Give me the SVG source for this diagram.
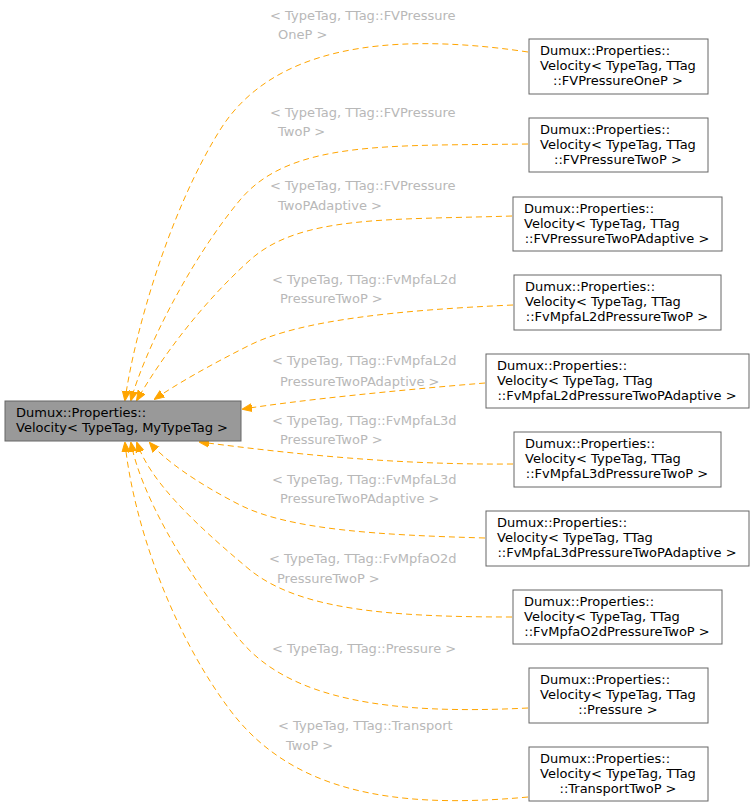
<svg xmlns="http://www.w3.org/2000/svg" width="755" height="809" viewBox="0 0 755 809">
<style>
text{font-family:"DejaVu Sans",sans-serif;font-size:13px;fill:#000}
.l{fill:#b8b8b8;font-size:13px}
.n{fill:#fff;stroke:#666;stroke-width:1}
.e{fill:none;stroke:#ffa500;stroke-dasharray:6,4;stroke-width:1}
.m{text-anchor:middle}
</style>
<defs><marker id="a" markerWidth="10" markerHeight="10" refX="9" refY="5" orient="auto" markerUnits="userSpaceOnUse"><path d="M0,1 L10,5 L0,9 Z" fill="#ffa500" stroke="#ffa500"/></marker></defs>
<rect width="755" height="809" fill="#fff"/>
<g id="edges">
<path class="e" marker-end="url(#a)" d="M528,52 C380,30 270,50 220,130 C170,210 135,330 125,400"/>
<path class="e" marker-end="url(#a)" d="M528,144 C390,146 290,140 240,200 C190,260 145,350 131,400"/>
<path class="e" marker-end="url(#a)" d="M512,216 C390,220 300,215 250,260 C200,305 160,360 137,400"/>
<path class="e" marker-end="url(#a)" d="M513,305 C400,310 300,320 250,345 C210,365 175,385 155,399"/>
<path class="e" marker-end="url(#a)" d="M485,383 C400,390 300,400 243,409"/>
<path class="e" marker-end="url(#a)" d="M513,464 C400,465 300,455 200,442"/>
<path class="e" marker-end="url(#a)" d="M485,538 C380,535 290,530 240,505 C195,482 165,460 150,443"/>
<path class="e" marker-end="url(#a)" d="M512,617 C390,617 300,610 250,570 C190,520 150,480 137,443"/>
<path class="e" marker-end="url(#a)" d="M528,708 C390,715 290,700 240,640 C180,565 140,490 131,443"/>
<path class="e" marker-end="url(#a)" d="M528,797 C390,810 290,790 230,710 C170,630 133,520 125,443"/>
</g>
<g id="labels" class="l">
<text class="l" x="270" y="20">&lt; TypeTag, TTag::FVPressure</text><text class="l" x="278" y="39">OneP &gt;</text>
<text class="l" x="270" y="117">&lt; TypeTag, TTag::FVPressure</text><text class="l" x="278" y="136">TwoP &gt;</text>
<text class="l" x="270" y="190">&lt; TypeTag, TTag::FVPressure</text><text class="l" x="278" y="210">TwoPAdaptive &gt;</text>
<text class="l" x="272" y="284">&lt; TypeTag, TTag::FvMpfaL2d</text><text class="l" x="280" y="303">PressureTwoP &gt;</text>
<text class="l" x="272" y="365">&lt; TypeTag, TTag::FvMpfaL2d</text><text class="l" x="280" y="386">PressureTwoPAdaptive &gt;</text>
<text class="l" x="272" y="425">&lt; TypeTag, TTag::FvMpfaL3d</text><text class="l" x="280" y="444">PressureTwoP &gt;</text>
<text class="l" x="272" y="484">&lt; TypeTag, TTag::FvMpfaL3d</text><text class="l" x="280" y="503">PressureTwoPAdaptive &gt;</text>
<text class="l" x="269" y="563">&lt; TypeTag, TTag::FvMpfaO2d</text><text class="l" x="277" y="583">PressureTwoP &gt;</text>
<text class="l" x="272" y="653">&lt; TypeTag, TTag::Pressure &gt;</text>
<text class="l" x="278" y="730">&lt; TypeTag, TTag::Transport</text><text class="l" x="286" y="750">TwoP &gt;</text>
</g>
<g id="root"><rect x="5" y="401" width="236" height="40" fill="#999" stroke="#666"/><text x="16" y="417">Dumux::Properties::</text><text x="16" y="432">Velocity&lt; TypeTag, MyTypeTag &gt;</text></g>
<g id="n1"><rect class="n" x="529" y="39" width="179" height="55"/><text x="540" y="55">Dumux::Properties::</text><text x="540" y="70">Velocity&lt; TypeTag, TTag</text><text class="m" x="618" y="85">::FVPressureOneP &gt;</text></g>
<g id="n2"><rect class="n" x="529" y="118" width="179" height="54"/><text x="540" y="134">Dumux::Properties::</text><text x="540" y="149">Velocity&lt; TypeTag, TTag</text><text class="m" x="618" y="164">::FVPressureTwoP &gt;</text></g>
<g id="n3"><rect class="n" x="513" y="197" width="209" height="54"/><text x="524" y="213">Dumux::Properties::</text><text x="524" y="228">Velocity&lt; TypeTag, TTag</text><text class="m" x="617" y="243">::FVPressureTwoPAdaptive &gt;</text></g>
<g id="n4"><rect class="n" x="514" y="275" width="207" height="55"/><text x="525" y="291">Dumux::Properties::</text><text x="525" y="306">Velocity&lt; TypeTag, TTag</text><text class="m" x="617" y="321">::FvMpfaL2dPressureTwoP &gt;</text></g>
<g id="n5"><rect class="n" x="486" y="354" width="263" height="54"/><text x="497" y="370">Dumux::Properties::</text><text x="497" y="385">Velocity&lt; TypeTag, TTag</text><text class="m" x="617" y="400">::FvMpfaL2dPressureTwoPAdaptive &gt;</text></g>
<g id="n6"><rect class="n" x="514" y="432" width="207" height="55"/><text x="525" y="448">Dumux::Properties::</text><text x="525" y="463">Velocity&lt; TypeTag, TTag</text><text class="m" x="617" y="478">::FvMpfaL3dPressureTwoP &gt;</text></g>
<g id="n7"><rect class="n" x="486" y="511" width="263" height="55"/><text x="497" y="527">Dumux::Properties::</text><text x="497" y="542">Velocity&lt; TypeTag, TTag</text><text class="m" x="617" y="557">::FvMpfaL3dPressureTwoPAdaptive &gt;</text></g>
<g id="n8"><rect class="n" x="513" y="590" width="209" height="54"/><text x="524" y="606">Dumux::Properties::</text><text x="524" y="621">Velocity&lt; TypeTag, TTag</text><text class="m" x="617" y="636">::FvMpfaO2dPressureTwoP &gt;</text></g>
<g id="n9"><rect class="n" x="529" y="668" width="179" height="55"/><text x="540" y="684">Dumux::Properties::</text><text x="540" y="699">Velocity&lt; TypeTag, TTag</text><text class="m" x="618" y="714">::Pressure &gt;</text></g>
<g id="n10"><rect class="n" x="529" y="747" width="179" height="54"/><text x="540" y="763">Dumux::Properties::</text><text x="540" y="778">Velocity&lt; TypeTag, TTag</text><text class="m" x="618" y="793">::TransportTwoP &gt;</text></g>
</svg>
